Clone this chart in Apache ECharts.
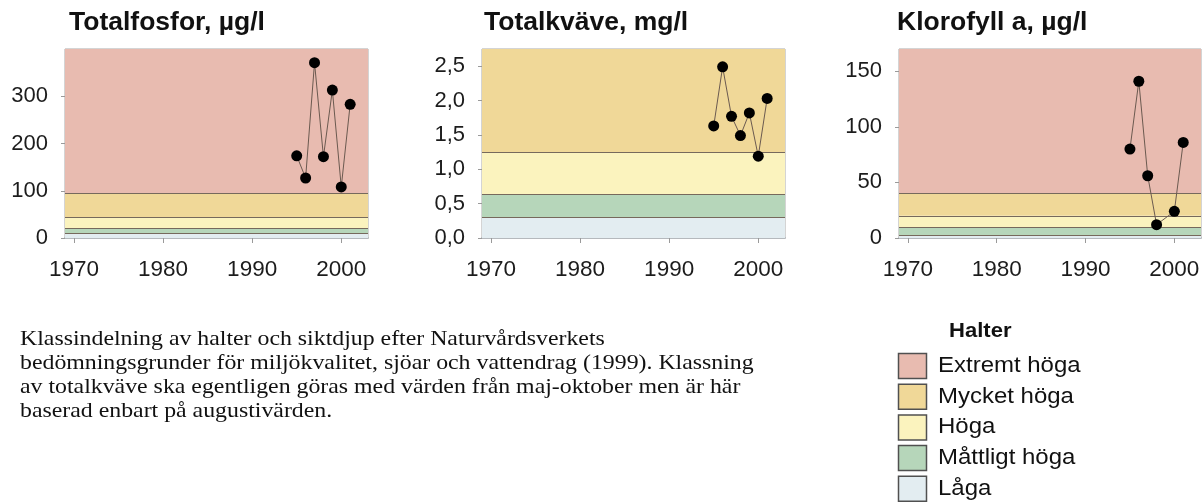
<!DOCTYPE html>
<html>
<head>
<meta charset="utf-8">
<script src="https://cdn.jsdelivr.net/npm/echarts@6/dist/echarts.min.js"></script>
<style>
html,body{margin:0;padding:0;background:#fff;}
#c{width:1204px;height:502px;}
</style>
</head>
<body>
<div id="c"></div>
<script>
// ---- data ----
const chartTitles = ['Totalfosfor, µg/l', 'Totalkväve, mg/l', 'Klorofyll a, µg/l'];
const classNames = ['Extremt höga', 'Mycket höga', 'Höga', 'Måttligt höga', 'Låga'];
const classColors = ['#E8BBB0', '#F0D898', '#FBF3BE', '#B6D6BA', '#E3EDF1']; // same order as classNames
const legendTitle = 'Halter';

const xTicks = [1970, 1980, 1990, 2000];
const xMin = 1969, xMax = 2003;

// Totalfosfor
const phosYears = [1995, 1996, 1997, 1998, 1999, 2000, 2001];
const phosValues = [174, 127, 371, 172, 313, 108, 283];
const phosBounds = [0, 10.5, 21, 43, 95, 400];
const phosBandClasses = ['Låga', 'Måttligt höga', 'Höga', 'Mycket höga', 'Extremt höga'];
const phosTicks = [0, 100, 200, 300];

// Totalkväve
const nitYears = [1995, 1996, 1997, 1998, 1999, 2000, 2001];
const nitValues = [1.63, 2.49, 1.77, 1.49, 1.82, 1.19, 2.03];
const nitBounds = [0, 0.3, 0.625, 1.25, 2.75];
const nitBandClasses = ['Låga', 'Måttligt höga', 'Höga', 'Mycket höga'];
const nitTicks = [0, 0.5, 1.0, 1.5, 2.0, 2.5];

// Klorofyll a
const chlYears = [1995, 1996, 1997, 1998, 2000, 2001];
const chlValues = [80, 141, 56, 12, 24, 86];
const chlBounds = [0, 2.5, 10, 20, 40, 170];
const chlBandClasses = ['Låga', 'Måttligt höga', 'Höga', 'Mycket höga', 'Extremt höga'];
const chlTicks = [0, 50, 100, 150];

const paragraphLines = [
  'Klassindelning av halter och siktdjup efter Naturvårdsverkets',
  'bedömningsgrunder för miljökvalitet, sjöar och vattendrag (1999). Klassning',
  'av totalkväve ska egentligen göras med värden från maj-oktober men är här',
  'baserad enbart på augustivärden.'
];

// ---- build ----
const panels = [
  {years: phosYears, values: phosValues, bounds: phosBounds, classes: phosBandClasses, ticks: phosTicks, dec: false},
  {years: nitYears, values: nitValues, bounds: nitBounds, classes: nitBandClasses, ticks: nitTicks, dec: true},
  {years: chlYears, values: chlValues, bounds: chlBounds, classes: chlBandClasses, ticks: chlTicks, dec: false}
];
const gridLefts = [65, 482, 899];
const gridWidths = [303, 303, 302];
const titleLefts = [69, 484, 897];

const colorOf = name => classColors[classNames.indexOf(name)];
const font = '"Liberation Sans", Arial, sans-serif';

const option = {
  animation: false,
  backgroundColor: '#fff',
  title: chartTitles.map((t, i) => ({
    text: t, left: titleLefts[i], top: 9, padding: 0,
    textStyle: {fontFamily: font, fontWeight: 'bold', fontSize: 26.5, color: '#111'}
  })),
  grid: panels.map((p, i) => ({
    left: gridLefts[i], width: gridWidths[i], top: 49, height: 189,
    show: true, borderColor: '#a9a9a9', borderWidth: 1, backgroundColor: 'transparent'
  })),
  xAxis: panels.map((p, i) => ({
    type: 'value', gridIndex: i, min: xMin, max: xMax,
    splitLine: {show: false},
    axisLine: {show: true, lineStyle: {color: '#b5b9bd', width: 2}},
    axisTick: {show: true, length: 5, lineStyle: {color: '#9a9a9a'}, customValues: xTicks},
    axisLabel: {customValues: xTicks, fontFamily: font, fontSize: 22.5, color: '#1c1c1c', margin: 20,
      formatter: v => String(v)}
  })),
  yAxis: panels.map((p, i) => ({
    type: 'value', gridIndex: i, min: 0, max: p.bounds[p.bounds.length - 1],
    splitLine: {show: false},
    axisLine: {show: false},
    axisTick: {show: true, length: 4, lineStyle: {color: '#9a9a9a'}, customValues: p.ticks},
    axisLabel: {customValues: p.ticks, fontFamily: font, fontSize: 22, color: '#1c1c1c', margin: 17,
      formatter: v => p.dec ? v.toFixed(1).replace('.', ',') : String(v)}
  })),
  series: [],
  graphic: []
};

panels.forEach((p, i) => {
  option.series.push({
    type: 'line', xAxisIndex: i, yAxisIndex: i, data: [], silent: true, z: 1,
    markArea: {
      silent: true,
      data: p.classes.map((c, k) => [
        {yAxis: p.bounds[k], itemStyle: {color: colorOf(c), opacity: 1}},
        {yAxis: p.bounds[k + 1]}
      ])
    },
    markLine: {
      silent: true, symbol: 'none', label: {show: false},
      lineStyle: {color: '#76695c', width: 1, type: 'solid'},
      data: p.bounds.slice(1, -1).map(b => ({yAxis: b}))
    }
  });
  option.series.push({
    type: 'line', xAxisIndex: i, yAxisIndex: i, z: 5,
    data: p.years.map((y, k) => [y, p.values[k]]),
    symbol: 'circle', symbolSize: 11,
    itemStyle: {color: '#000'},
    lineStyle: {color: '#6b5a50', width: 1}
  });
});

// paragraph
paragraphLines.forEach((t, k) => {
  option.graphic.push({
    type: 'text', x: 20, y: 339 + k * 24, scaleX: 1.108, scaleY: 1,
    style: {text: t, font: '21.5px "Liberation Serif", "Times New Roman", serif', fill: '#111',
      verticalAlign: 'middle', align: 'left'}
  });
});

// legend
option.graphic.push({
  type: 'text', x: 949, y: 331, scaleX: 1.05,
  style: {text: legendTitle, font: 'bold 21px ' + font, fill: '#111', verticalAlign: 'middle'}
});
classNames.forEach((c, k) => {
  option.graphic.push({
    type: 'rect', shape: {x: 898.5, y: 353.5 + k * 30.7, width: 28, height: 25},
    style: {fill: classColors[k], stroke: '#505050', lineWidth: 1.5}
  });
  option.graphic.push({
    type: 'text', x: 938, y: 366 + k * 30.7, scaleX: 1.09,
    style: {text: c, font: '22px ' + font, fill: '#111', verticalAlign: 'middle'}
  });
});

const chart = echarts.init(document.getElementById('c'), null, {renderer: 'canvas'});
chart.setOption(option);
</script>
</body>
</html>
